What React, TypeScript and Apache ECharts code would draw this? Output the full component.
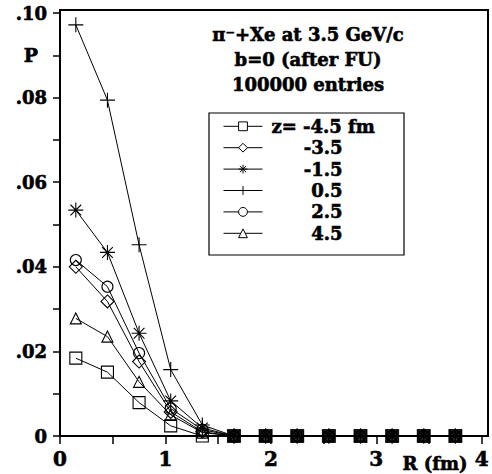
import React, { useEffect, useRef } from "react";
import * as echarts from "echarts";

// Radial distance of each bin centre (fm)
const radii = [0.15, 0.45, 0.75, 1.05, 1.35, 1.65, 1.95, 2.25, 2.55, 2.85, 3.15, 3.45, 3.75];

// Probability P(R) for each longitudinal slice z
const pZm45 = [0.0184, 0.0151, 0.0079, 0.0024, 0.0, 0, 0, 0, 0, 0, 0, 0, 0];
const pZm35 = [0.04, 0.0318, 0.0176, 0.0057, 0.001, 0, 0, 0, 0, 0, 0, 0, 0];
const pZm15 = [0.0534, 0.0434, 0.0243, 0.0083, 0.0019, 0, 0, 0, 0, 0, 0, 0, 0];
const pZ05 = [0.0972, 0.0794, 0.0452, 0.0157, 0.0026, 0, 0, 0, 0, 0, 0, 0, 0];
const pZ25 = [0.0416, 0.0353, 0.0196, 0.0065, 0.0015, 0, 0, 0, 0, 0, 0, 0, 0];
const pZ45 = [0.0278, 0.0235, 0.0128, 0.005, 0.0008, 0, 0, 0, 0, 0, 0, 0, 0];

const seriesNames = ["z= -4.5 fm", "-3.5", "-1.5", "0.5", "2.5", "4.5"];
const seriesValues = [pZm45, pZm35, pZm15, pZ05, pZ25, pZ45];

const titleLines = ["\u03c0\u207b+Xe at 3.5 GeV/c", "b=0 (after FU)", "100000 entries"];

const FONT = "DejaVu Serif";
// thin outline so the glyphs print as heavy as the plotter's lettering
const heavy = { textBorderColor: "#000", textBorderWidth: 0.6 };

const starPath = "path://M7,0L7,14M0,7L14,7M2,2L12,12M2,12L12,2";
const plusPath = "path://M7,0L7,14M0,7L14,7";

const symbols = ["rect", "diamond", starPath, plusPath, "circle", "triangle"];
const symbolSizes = [12, 13, 15, 15, 11, 11];

export default function App() {
  const ref = useRef<HTMLDivElement>(null);

  useEffect(() => {
    const chart = echarts.init(ref.current!, null, { renderer: "svg" });

    const lineSeries = seriesNames.map((name, i) => ({
      name,
      type: "line",
      data: radii.map((r, k) => [r, seriesValues[i][k]]),
      symbol: symbols[i],
      symbolSize: symbolSizes[i],
      showAllSymbol: true,
      lineStyle: { color: "#000", width: 1 },
      itemStyle: { color: "transparent", borderColor: "#000", borderWidth: 1.1 },
      z: 3,
    }));

    // Bins where every slice has the same value: the stacked markers merge into a blob
    const coincident = radii
      .map((r, k) => ({ r, k }))
      .filter(({ k }) => seriesValues.every((s) => s[k] === seriesValues[0][k]))
      .map(({ r, k }) => [r, seriesValues[0][k]]);

    const textStyle = (size: number) => ({
      fill: "#000",
      fontFamily: FONT,
      fontWeight: "bold",
      fontSize: size,
      align: "center",
      verticalAlign: "middle",
      stroke: "#000",
      lineWidth: 0.6,
    });

    const option = {
      animation: false,
      backgroundColor: "#fff",
      grid: { left: 60, right: 4, top: 13, bottom: 38 },
      xAxis: {
        type: "value",
        min: 0,
        max: 4,
        interval: 0.5,
        axisLine: { lineStyle: { color: "#000", width: 2 } },
        axisTick: { inside: false, length: 8, lineStyle: { color: "#000", width: 1.5 } },
        splitLine: { show: false },
        axisLabel: {
          margin: 13,
          color: "#000",
          fontFamily: FONT,
          fontWeight: "bold",
          fontSize: 20,
          showMaxLabel: true,
          ...heavy,
          formatter: (v: number) => (Number.isInteger(v) ? String(v) : ""),
        },
      },
      yAxis: {
        type: "value",
        min: 0,
        max: 0.1,
        interval: 0.01,
        axisLine: { lineStyle: { color: "#000", width: 2 } },
        axisTick: { inside: false, length: 7, lineStyle: { color: "#000", width: 1.5 } },
        splitLine: { show: false },
        axisLabel: {
          margin: 13,
          color: "#000",
          fontFamily: FONT,
          fontWeight: "bold",
          fontSize: 18,
          ...heavy,
          formatter: (v: number) => {
            const n = Math.round(v * 100);
            if (n % 2 !== 0) return "";
            if (n === 0) return "0";
            return "." + String(n).padStart(2, "0");
          },
        },
      },
      legend: {
        data: seriesNames,
        orient: "vertical",
        left: 223,
        top: 117,
        padding: 0,
        itemWidth: 39,
        itemHeight: 11,
        itemGap: 2.8,
        selectedMode: false,
        itemStyle: { color: "#fff", borderColor: "#000", borderWidth: 1 },
        lineStyle: { color: "#000", width: 1 },
        textStyle: {
          color: "#000",
          fontFamily: FONT,
          fontWeight: "bold",
          fontSize: 18,
          lineHeight: 18,
          ...heavy,
          rich: {
            a: { fontFamily: FONT, fontWeight: "bold", fontSize: 18, padding: [0, 0, 0, 4], ...heavy },
            b: { fontFamily: FONT, fontWeight: "bold", fontSize: 18, width: 75, align: "right", ...heavy },
          },
        },
        formatter: (name: string) =>
          name === seriesNames[0] ? `{a|${name}}` : `{b|${name}}`,
      },
      series: [
        {
          name: "coincident",
          type: "scatter",
          data: coincident,
          symbol: "rect",
          symbolSize: 14,
          itemStyle: { color: "#000" },
          silent: true,
          z: 2,
        },
        ...lineSeries,
      ],
      graphic: [
        {
          type: "rect",
          shape: { x: 60, y: 10, width: 428, height: 426 },
          style: { fill: "none", stroke: "#000", lineWidth: 2 },
          silent: true,
          z: 1,
        },
        {
          type: "rect",
          shape: { x: 209, y: 113, width: 195, height: 142 },
          style: { fill: "none", stroke: "#000", lineWidth: 1.2 },
          silent: true,
        },
        ...titleLines.map((t, i) => ({
          type: "text",
          x: 308,
          y: 34 + i * 25,
          style: { text: t, ...textStyle(18) },
        })),
        {
          type: "text",
          x: 31,
          y: 55,
          style: { text: "P", ...textStyle(19) },
        },
        {
          type: "text",
          x: 435,
          y: 463,
          style: { text: "R (fm)", ...textStyle(18) },
        },
      ],
    };

    chart.setOption(option as any);
    return () => chart.dispose();
  }, []);

  return (
    <div
      ref={ref}
      style={{ position: "fixed", left: 0, top: 0, width: 492, height: 474 }}
    />
  );
}
